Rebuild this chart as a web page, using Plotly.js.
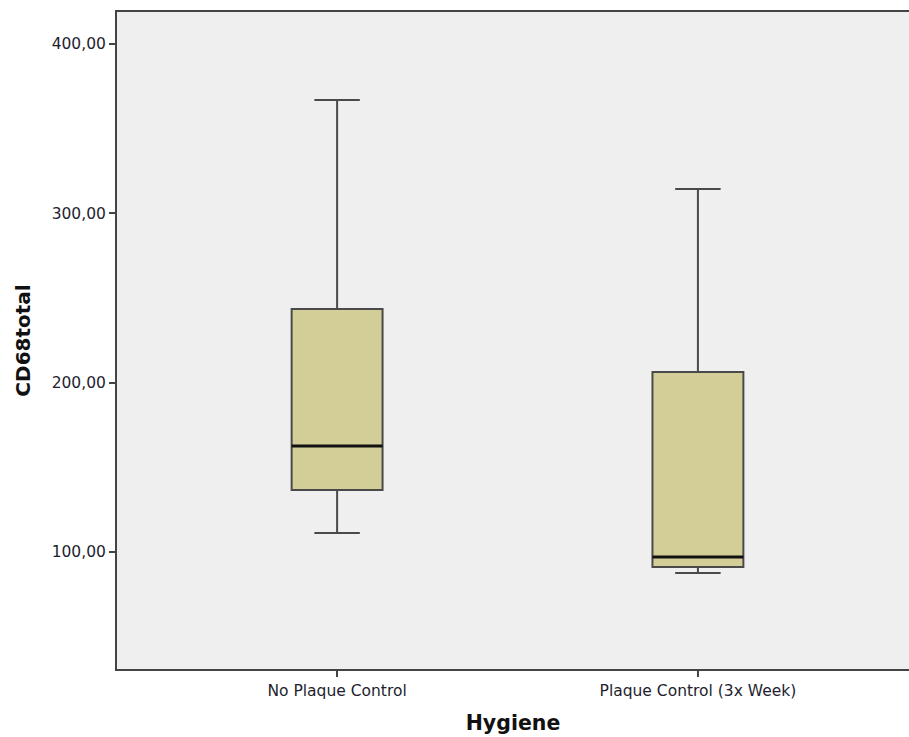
<!DOCTYPE html>
<html>
<head>
<meta charset="utf-8">
<script src="https://cdn.plot.ly/plotly-3.0.1.min.js"></script>
<style>html,body{margin:0;padding:0;background:#fff;}#chart{width:909px;height:737px;}</style>
</head>
<body>
<div id="chart"></div>
<script>
// Data
const categories = ["No Plaque Control", "Plaque Control (3x Week)"];
const lowerWhisker = [111.2, 87.6];
const q1Values = [136.6, 91.1];
const medianValues = [162.6, 97.0];
const q3Values = [243.5, 206.3];
const upperWhisker = [366.9, 314.4];
const yTickValues = [100, 200, 300, 400];

const positions = categories.map((c, i) => i);
const boxWidth = 0.252;

const boxTrace = {
  type: 'box',
  x: positions,
  q1: q1Values,
  median: medianValues,
  q3: q3Values,
  lowerfence: lowerWhisker,
  upperfence: upperWhisker,
  width: boxWidth,
  whiskerwidth: 0.5,
  fillcolor: '#d3ce98',
  line: {color: '#4a4a4a', width: 2},
  hoverinfo: 'skip',
  showlegend: false
};

// Overlay darker, thicker median lines
const medX = [], medY = [];
positions.forEach((p, i) => {
  medX.push(p - boxWidth / 2, p + boxWidth / 2, null);
  medY.push(medianValues[i], medianValues[i], null);
});
const medianTrace = {
  type: 'scatter', mode: 'lines',
  x: medX, y: medY,
  line: {color: '#111', width: 3},
  hoverinfo: 'skip', showlegend: false
};

const layout = {
  width: 909, height: 737,
  margin: {l: 117, r: 0, t: 12, b: 68},
  paper_bgcolor: '#ffffff',
  plot_bgcolor: '#efefef',
  separators: ',.',
  font: {family: 'DejaVu Sans, sans-serif', size: 15.5, color: '#1e1e2e'},
  xaxis: {
    range: [-0.61, 1.585],
    tickvals: positions,
    ticktext: categories,
    ticks: 'outside', ticklen: 6, tickwidth: 2, tickcolor: '#444',
    showline: true, linecolor: '#444', linewidth: 2, mirror: true,
    showgrid: false, zeroline: false,
    tickfont: {size: 15.5, color: '#1e1e2e'},
    title: {text: 'Hygiene', font: {size: 20.5, color: '#111', weight: 'bold'}, standoff: 17}
  },
  yaxis: {
    range: [30.9, 418.9],
    tickvals: yTickValues,
    tickformat: '.2f',
    ticks: 'outside', ticklen: 6, tickwidth: 2, tickcolor: '#444',
    showline: true, linecolor: '#444', linewidth: 2,
    showgrid: false, zeroline: false,
    tickfont: {size: 15.5, color: '#1e1e2e'},
    title: {text: 'CD68total', font: {size: 20, color: '#111', weight: 'bold'}, standoff: 16}
  }
};

Plotly.newPlot('chart', [boxTrace, medianTrace], layout, {displayModeBar: false, staticPlot: true});
</script>
</body>
</html>
